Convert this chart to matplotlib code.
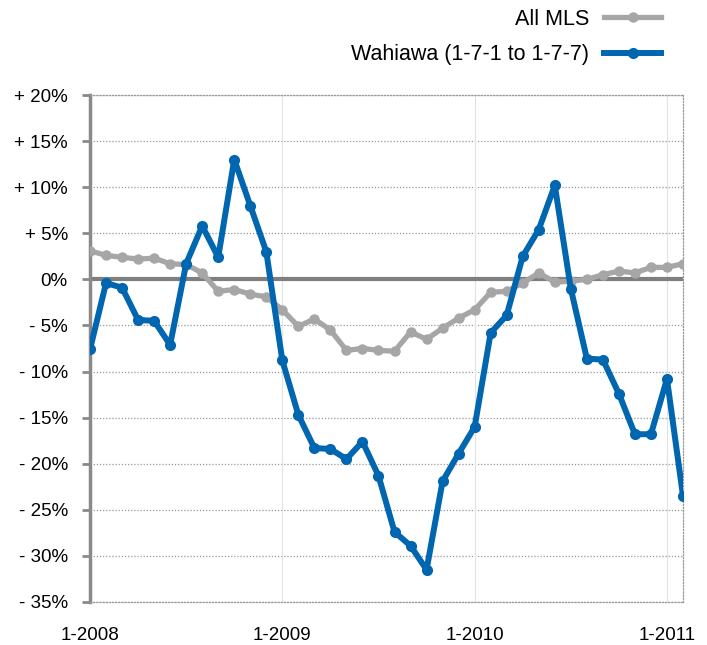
import matplotlib
matplotlib.use('Agg')
import matplotlib.pyplot as plt
import numpy as np

# monthly values, Jan 2008 .. Feb 2011 (% change vs year earlier)
months = np.arange(38)
all_mls = [3.1, 2.6, 2.4, 2.2, 2.3, 1.7, 1.6, 0.7, -1.3, -1.1, -1.6, -1.9,
           -3.3, -5.1, -4.3, -5.5, -7.7, -7.5, -7.7, -7.8, -5.7, -6.5, -5.3, -4.2,
           -3.3, -1.4, -1.3, -0.4, 0.7, -0.3, -0.2, 0.0, 0.5, 0.9, 0.7, 1.3,
           1.3, 1.7]
wahiawa = [-7.6, -0.4, -0.9, -4.4, -4.5, -7.1, 1.7, 5.8, 2.4, 13.0, 8.0, 3.0,
           -8.8, -14.7, -18.3, -18.4, -19.5, -17.6, -21.3, -27.4, -28.9, -31.5, -21.9, -18.9,
           -16.0, -5.8, -3.9, 2.5, 5.4, 10.2, -1.0, -8.6, -8.7, -12.4, -16.8, -16.8,
           -10.8, -23.5]
year_ticks = [0, 12, 24, 36]
year_labels = ['1-2008', '1-2009', '1-2010', '1-2011']
y_ticks = [20, 15, 10, 5, 0, -5, -10, -15, -20, -25, -30, -35]
y_labels = ['+ 20%', '+ 15%', '+ 10%', '+ 5%', '0%', '- 5%', '- 10%', '- 15%',
            '- 20%', '- 25%', '- 30%', '- 35%']

plt.rcParams['font.family'] = ['Liberation Sans', 'DejaVu Sans']

fig = plt.figure(figsize=(7.07, 6.45), dpi=100)
ax = fig.add_axes([90 / 707, 1 - 602 / 645, (683 - 90) / 707, (602 - 95) / 645])

# grid
for y in y_ticks:
    ax.axhline(y, color='#999999', lw=0.9, ls=(0, (1, 1.5)), zorder=1)
for x in year_ticks[1:]:
    ax.axvline(x, color='#e2e2e2', lw=0.8, zorder=1)
ax.axhline(0, color='#7f7f7f', lw=3, zorder=2)

ax.plot(months, all_mls, color='#a6a6a6', lw=3.8, marker='o', ms=6.5,
        solid_joinstyle='round', label='All MLS', zorder=3)
ax.plot(months, wahiawa, color='#0066b0', lw=4.3, marker='o', ms=7,
        solid_joinstyle='round', label='Wahiawa (1-7-1 to 1-7-7)', zorder=4)

ax.set_xlim(0, 37)
ax.set_ylim(-35, 20)
ax.set_xticks(year_ticks)
ax.set_xticklabels(year_labels, fontsize=13.5)
ax.set_yticks(y_ticks)
ax.set_yticklabels(y_labels, fontsize=13.5)
ax.tick_params(axis='x', length=0, pad=18)
ax.tick_params(axis='y', length=6, width=2, color='#8a8a8a', pad=10)

for s in ['top', 'right', 'bottom']:
    ax.spines[s].set_color('#999999')
    ax.spines[s].set_linewidth(0.9)
    ax.spines[s].set_linestyle((0, (1, 1.5)))
ax.spines['left'].set_color('#8a8a8a')
ax.spines['left'].set_linewidth(2.5)

fig.legend(loc='upper right', bbox_to_anchor=(670 / 707, 1.0), frameon=False,
           markerfirst=False, fontsize=15.5, handlelength=2.65, labelspacing=0.68,
           handletextpad=0.7, borderaxespad=0.0)

plt.savefig('out.png', dpi=100)
